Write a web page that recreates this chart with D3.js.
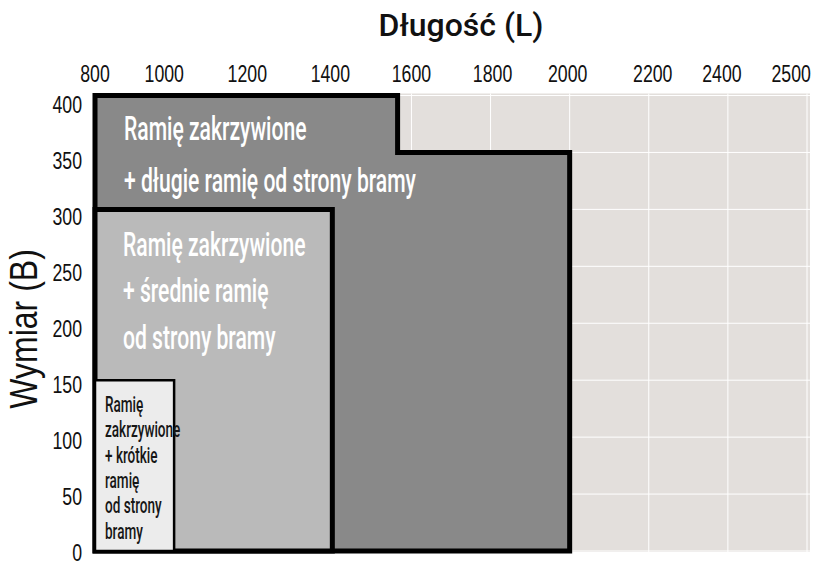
<!DOCTYPE html>
<html>
<head>
<meta charset="utf-8">
<script src="https://cdn.jsdelivr.net/npm/d3@7"></script>
<style>
  html, body { margin: 0; padding: 0; background: #fff; }
  svg { display: block; }
  .tick-label { font-family: 'Liberation Sans', Arial, sans-serif; font-size: 23px; fill: #111; }
  .axis-title { font-family: 'Liberation Sans', Arial, sans-serif; fill: #111; }
  .zone-label { font-family: Roboto, sans-serif; font-weight: 500; }
</style>
</head>
<body>
<svg id="chart"></svg>
<script>
// axis ticks (L = Długość, B = Wymiar)
const xTicks = [800, 1000, 1200, 1400, 1600, 1800, 2000, 2200, 2400, 2500];
// where each top label sits in the picture, in L units
const xTickAt = [800, 975, 1185, 1395, 1600, 1805, 1995, 2210, 2385, 2560];
const yTicks = [0, 50, 100, 150, 200, 250, 300, 350, 400];

// zone outlines as [L, B] corners
const longOutline = [[800, 0], [800, 400], [1565, 400], [1565, 350], [2000, 350], [2000, 0]];
const mediumOutline = [[800, 0], [800, 300], [1400, 300], [1400, 0]];
const shortOutline = [[800, 0], [800, 150], [1000, 150], [1000, 0]];

const longLabel = ['Ramię zakrzywione', '+ długie ramię od strony bramy'];
const mediumLabel = ['Ramię zakrzywione', '+ średnie ramię', 'od strony bramy'];
const shortLabel = ['Ramię', 'zakrzywione', '+ krótkie', 'ramię', 'od strony', 'bramy'];

const width = 824;
const height = 576;
const margin = { top: 95.5, right: 17, bottom: 25, left: 95 };

const svg = d3.select('#chart')
  .attr('width', width)
  .attr('height', height);

const x = d3.scaleLinear()
  .domain([800, 2600])
  .range([margin.left, width - margin.right]);

const y = d3.scaleLinear()
  .domain([0, 400])
  .range([height - margin.bottom, margin.top]);

// labels on the left sit a touch lower than the grid
const yLabelScale = d3.scaleLinear()
  .domain([0, 400])
  .range([552, 104]);

// plot background + white grid
svg.append('rect')
  .attr('x', x(800))
  .attr('y', y(400) - 2)
  .attr('width', x(2600) - x(800) + 3)
  .attr('height', y(0) - y(400) + 3)
  .attr('fill', '#e3dfdc');

const grid = svg.append('g').attr('class', 'grid');
grid.selectAll('line.v')
  .data(x.ticks(10))
  .join('line')
  .attr('class', 'v')
  .attr('x1', (d) => x(d))
  .attr('x2', (d) => x(d))
  .attr('y1', y(400) - 2)
  .attr('y2', y(0) + 1)
  .attr('stroke', '#fff')
  .attr('stroke-width', 1);
grid.selectAll('line.h')
  .data(yTicks)
  .join('line')
  .attr('class', 'h')
  .attr('x1', x(800))
  .attr('x2', x(2600) + 3)
  .attr('y1', (d) => y(d))
  .attr('y2', (d) => y(d))
  .attr('stroke', '#fff')
  .attr('stroke-width', 1);

// zones, biggest first
const zones = [
  { outline: longOutline, label: longLabel, fill: '#898989', stroke: 5, text: '#fff', size: 33, squeeze: 0.64, lineGap: 52, top: 44.5, pad: 29 },
  { outline: mediumOutline, label: mediumLabel, fill: '#bababa', stroke: 5, text: '#fff', size: 33, squeeze: 0.64, lineGap: 46.5, top: 46.5, pad: 28 },
  { outline: shortOutline, label: shortLabel, fill: '#ececec', stroke: 2.5, text: '#161616', size: 21.5, squeeze: 0.63, lineGap: 25.3, top: 32, pad: 10 },
];

const outlinePath = d3.line()
  .x((d) => x(d[0]))
  .y((d) => y(d[1]));

zones.forEach((z) => {
  svg.append('path')
    .attr('d', `${outlinePath(z.outline)}Z`)
    .attr('fill', z.fill)
    .attr('stroke', '#000')
    .attr('stroke-width', z.stroke)
    .attr('stroke-linejoin', 'miter');

  const left = x(d3.min(z.outline, (d) => d[0]));
  const top = y(d3.max(z.outline, (d) => d[1]));

  svg.append('g')
    .selectAll('text')
    .data(z.label)
    .join('text')
    .attr('class', 'zone-label')
    .attr('transform', (_, i) => `translate(${left + z.pad},${top + z.top + i * z.lineGap}) scale(${z.squeeze},1)`)
    .attr('font-size', z.size)
    .attr('fill', z.text)
    .text((d) => d);
});

// top axis labels
svg.append('g')
  .selectAll('text')
  .data(xTicks)
  .join('text')
  .attr('class', 'tick-label')
  .attr('text-anchor', 'middle')
  .attr('transform', (_, i) => `translate(${x(xTickAt[i])},82) scale(0.77,1)`)
  .text((d) => d);

// left axis labels
const yAxis = svg.append('g')
  .attr('transform', `translate(${margin.left},0)`)
  .call(d3.axisLeft(yLabelScale).tickValues(yTicks).tickSize(0).tickFormat(d3.format('d')));
yAxis.select('.domain').remove();
yAxis.selectAll('text')
  .attr('class', 'tick-label')
  .attr('x', null)
  .attr('dy', '0.36em')
  .attr('text-anchor', 'end')
  .attr('font-size', null)
  .attr('font-family', null)
  .attr('transform', 'translate(-13,0) scale(0.77,1)');

// titles
svg.append('text')
  .attr('class', 'zone-label')
  .attr('x', 461)
  .attr('y', 36)
  .attr('text-anchor', 'middle')
  .attr('font-size', 32)
  .attr('fill', '#111')
  .text('Długość (L)');

svg.append('text')
  .attr('class', 'axis-title')
  .attr('text-anchor', 'middle')
  .attr('font-size', 39)
  .attr('transform', 'translate(37,329) rotate(-90) scale(0.82,1)')
  .text('Wymiar (B)');
</script>
</body>
</html>
